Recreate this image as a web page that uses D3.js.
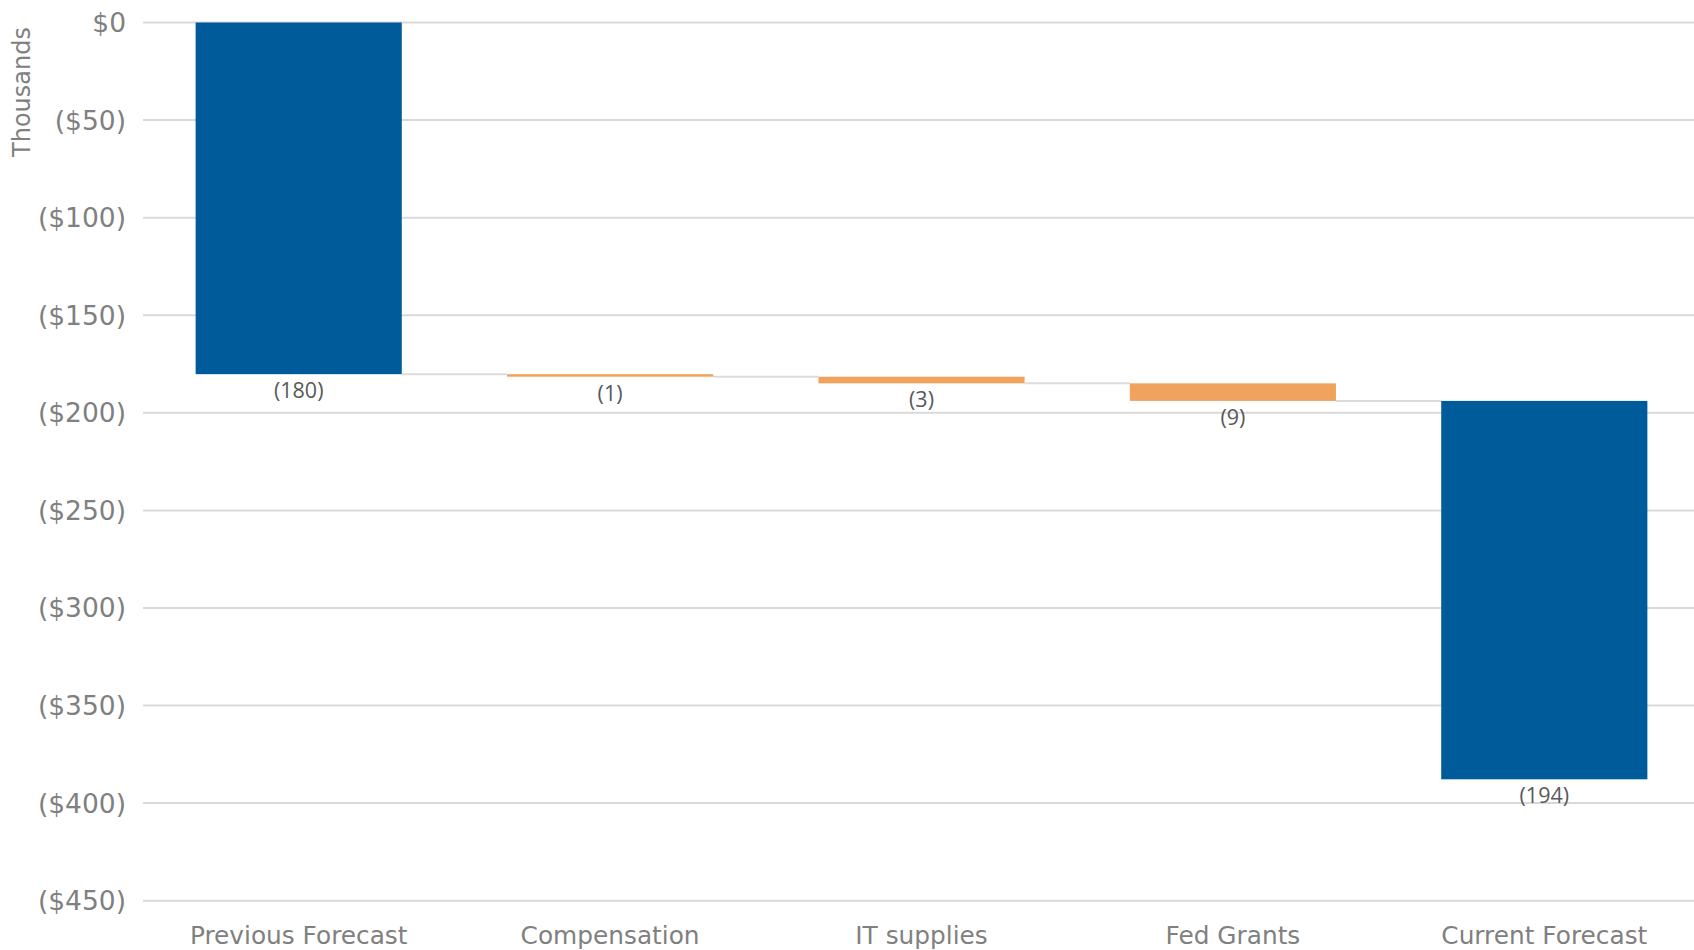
<!DOCTYPE html>
<html>
<head>
<meta charset="utf-8">
<script src="https://cdn.jsdelivr.net/npm/d3@7"></script>
<style>
  html, body { margin: 0; padding: 0; background: #ffffff; }
  svg { display: block; }
</style>
</head>
<body>
<svg id="chart" width="1694" height="950"></svg>
<script>
// ---- data ----
const categories = ["Previous Forecast", "Compensation", "IT supplies", "Fed Grants", "Current Forecast"];
const values = [-180.2, -1.3, -3.4, -9.0, -193.9];
const kinds = ["total", "delta", "delta", "delta", "total"];
const yTicks = [0, -50, -100, -150, -200, -250, -300, -350, -400, -450];
const yTitle = "Thousands";

// ---- layout ----
const W = 1694, H = 950;
const svg = d3.select("#chart");
const x = d3.scaleBand().domain(categories).range([143, 1700]).paddingInner(0.338).paddingOuter(0.169);
const y = d3.scaleLinear().domain([0, -450]).range([22.5, 900.7]);

const colors = { total: "#005B9A", delta: "#F0A35E" };
const axisColor = "#808080";

// running starts
let run = 0;
const bars = categories.map((c, i) => {
  const start = run;
  const end = run + values[i];
  run = end;
  return { c, v: values[i], kind: kinds[i], start, end };
});

// y tick labels
const yAxis = d3.axisLeft(y).tickValues(yTicks).tickSize(0)
  .tickFormat(d => d === 0 ? "$0" : (d < 0 ? "($" + Math.abs(d) + ")" : "$" + d));
const gAxis = svg.append("g").attr("transform", "translate(126,0)").call(yAxis);
gAxis.select(".domain").remove();
gAxis.selectAll("text")
  .attr("fill", axisColor)
  .attr("font-family", "'DejaVu Sans', sans-serif")
  .attr("font-size", 26.5)
  .attr("x", 0)
  .attr("dy", "0.34em")
  .attr("text-anchor", "end");

// gridlines
svg.append("g").selectAll("line").data(yTicks).join("line")
  .attr("x1", 143).attr("x2", W)
  .attr("y1", d => y(d)).attr("y2", d => y(d))
  .attr("stroke", "#d9d9d9").attr("stroke-width", 2);

// connectors
svg.append("g").selectAll("line").data(bars.slice(0, -1)).join("line")
  .attr("x1", (d) => x(d.c) + x.bandwidth())
  .attr("x2", (d, i) => x(categories[i + 1]))
  .attr("y1", d => y(d.end)).attr("y2", d => y(d.end))
  .attr("stroke", "#dcdcdc").attr("stroke-width", 2);

// bars
svg.append("g").selectAll("rect").data(bars).join("rect")
  .attr("x", d => x(d.c))
  .attr("width", x.bandwidth())
  .attr("y", d => y(Math.max(d.start, d.end)))
  .attr("height", d => Math.max(1.5, Math.abs(y(d.end) - y(d.start))))
  .attr("fill", d => colors[d.kind]);

// data labels
svg.append("g").selectAll("text").data(bars).join("text")
  .attr("x", d => x(d.c) + x.bandwidth() / 2)
  .attr("y", d => y(Math.min(d.start, d.end)) + 16.5)
  .attr("dy", "0.35em")
  .attr("text-anchor", "middle")
  .attr("font-family", "'Open Sans', sans-serif")
  .attr("font-size", 21.5)
  .attr("fill", "#595959")
  .text(d => d.v < 0 ? "(" + Math.round(Math.abs(d.v)) + ")" : Math.round(d.v));

// x-axis labels
const xAxis = d3.axisBottom(x).tickSize(0).tickPadding(0);
const gx = svg.append("g").attr("transform", "translate(0,944)").call(xAxis);
gx.select(".domain").remove();
gx.selectAll("text")
  .attr("y", 0).attr("dy", 0)
  .attr("fill", axisColor)
  .attr("font-family", "'DejaVu Sans', sans-serif")
  .attr("font-size", 24.8);

// y title
svg.append("text")
  .attr("transform", "translate(30,92) rotate(-90)")
  .attr("text-anchor", "middle")
  .attr("fill", axisColor)
  .attr("font-family", "'DejaVu Sans', sans-serif")
  .attr("font-size", 24)
  .text(yTitle);
</script>
</body>
</html>
